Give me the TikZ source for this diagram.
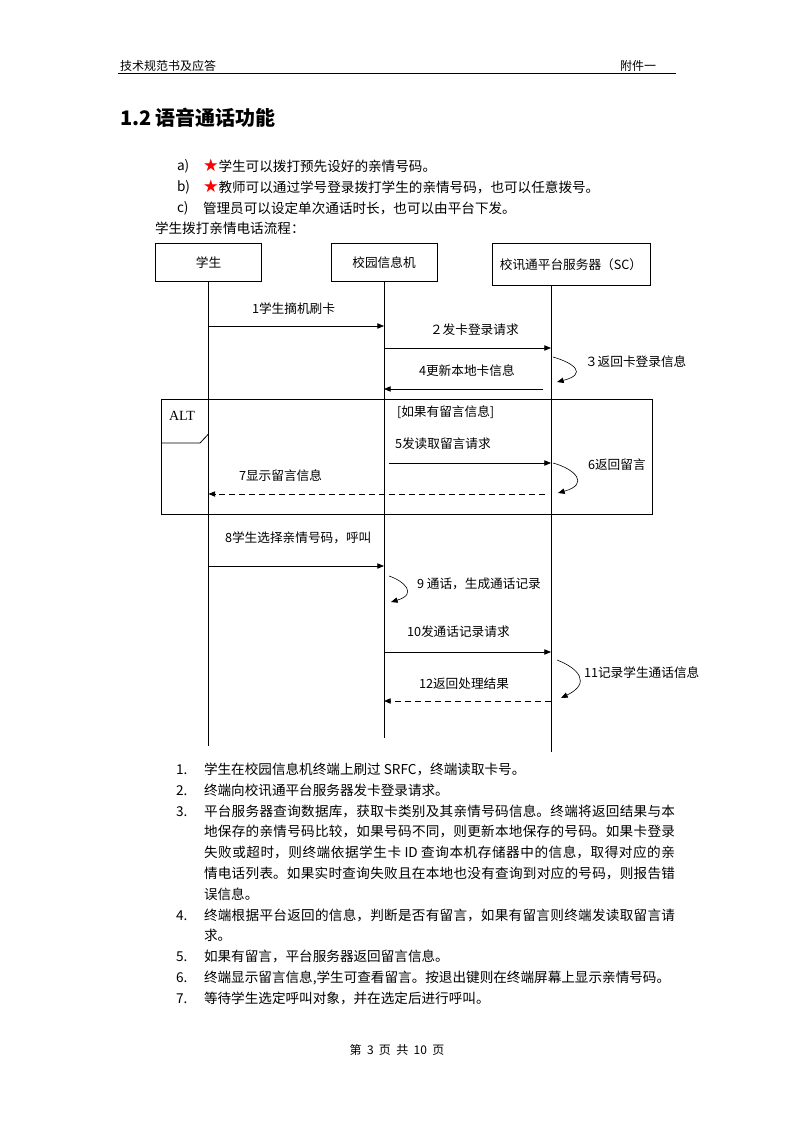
\documentclass[tikz,border=0pt]{standalone}
\usepackage{fontspec}
\setmainfont{Noto Sans CJK SC}
\newfontfamily\starfont{DejaVu Sans}
\newfontfamily\altfont{Liberation Serif}
\usepackage{xcolor}
\usetikzlibrary{arrows.meta}
\definecolor{starred}{RGB}{255, 0, 0}
\XeTeXlinebreaklocale "zh"
\XeTeXlinebreakskip=0pt plus 2pt
\emergencystretch=2em
\newcommand{\redstar}{{\starfont\fontsize{13}{15}\selectfont\color{starred}★}}

\begin{document}
\begin{tikzpicture}[
    x=0.75pt, y=-0.75pt,
    every node/.style={inner sep=0pt, outer sep=0pt},
    headtext/.style={
        anchor=west,
        font=\fontsize{9}{11}\selectfont
    },
    pagetext/.style={
        anchor=west,
        font=\fontsize{10.2}{15.6}\selectfont
    },
    lifebox/.style={
        rectangle,
        draw,
        line width=0.6pt,
        align=center,
        minimum width=79.5pt,
        minimum height=28.5pt,
        font=\fontsize{9.5}{11}\selectfont
    },
    lifeline/.style={
        line width=0.6pt
    },
    msglabel/.style={
        anchor=west,
        font=\fontsize{9.5}{11}\selectfont
    },
    msg/.style={
        line width=0.6pt,
        -{Triangle[length=5pt, width=4pt]}
    },
    reply/.style={
        msg,
        dash pattern=on 4.5pt off 3pt
    },
    selfmsg/.style={
        line width=0.45pt,
        -{Triangle[length=5pt, width=4pt]}
    },
    altframe/.style={
        rectangle,
        draw,
        line width=0.6pt,
        minimum width=368.25pt,
        minimum height=86.25pt
    },
    itemnum/.style={
        anchor=base west,
        font=\fontsize{10.2}{15.6}\selectfont
    },
    itemtext/.style={
        anchor=base west,
        text width=353.25pt,
        align=justify,
        font=\fontsize{10.2}{15.6}\selectfont
    }
]

\fill[white] (0,0) rectangle (794,1123);
\useasboundingbox (0,0) rectangle (794,1123);

% Page head
\node (headleft) [headtext] at (120,66) {技术规范书及应答};
\node (headright) [headtext] at (620,66) {附件一};
\draw[line width=0.75pt] (118,74) -- (676,74);

\node (title) [anchor=west, font=\fontsize{15}{18}\selectfont\bfseries] at (120,118) {1.2 语音通话功能};

\node (ia) [pagetext] at (177,166) {a)};
\node (ta) [pagetext] at (203,166) {\redstar 学生可以拨打预先设好的亲情号码。};
\node (ib) [pagetext] at (177,187) {b)};
\node (tb) [pagetext] at (203,187) {\redstar 教师可以通过学号登录拨打学生的亲情号码，也可以任意拨号。};
\node (ic) [pagetext] at (177,208) {c)};
\node (tc) [pagetext] at (203,208) {管理员可以设定单次通话时长，也可以由平台下发。};
\node (flow) [pagetext] at (155,228) {学生拨打亲情电话流程：};

% Lifelines
\node (stu) [lifebox] at (208.5,262.5) {学生};
\node (kio) [lifebox] at (384,262.5) {校园信息机};
\node (srv) [lifebox, minimum width=118.5pt, minimum height=31.5pt] at (571,264.5) {校讯通平台服务器（SC）};

\coordinate (stuend) at (208.5,746);
\coordinate (kioend) at (384,738);
\coordinate (srvend) at (551,752);

\draw[lifeline] (stu.south) -- (stuend);
\draw[lifeline] (kio.south) -- (kioend);
\draw[lifeline] (srv.south -| srvend) -- (srvend);

% ALT frame
\node (alt) [altframe] at (406.5,456.5) {};
\node (alttag) [anchor=west, font=\altfont\fontsize{10.5}{12}\selectfont] at (169,416) {ALT};
\coordinate (tab1) at (161,443);
\coordinate (tab2) at (200,443);
\coordinate (tab3) at (208.5,434);
\coordinate (tab4) at (208.5,399);
\draw[line width=0.6pt] (tab1) -- (tab2) -- (tab3);
\draw[line width=1.1pt] (tab3) -- (tab4);
\node (cond) [msglabel] at (397,412) {[如果有留言信息]};

% Message rows
\coordinate (row1) at (0,326);
\coordinate (row2) at (0,348);
\coordinate (row4) at (0,389);
\coordinate (row5) at (0,463);
\coordinate (row7) at (0,494);
\coordinate (row8) at (0,566);
\coordinate (row10) at (0,652);
\coordinate (row12) at (0,701);

% Labels
\node (lbl1) [msglabel] at (252,309) {1学生摘机刷卡};
\node (lbl2) [msglabel] at (430,330) {２发卡登录请求};
\node (lbl3) [msglabel] at (585,362) {３返回卡登录信息};
\node (lbl4) [msglabel] at (419,371) {4更新本地卡信息};
\node (lbl5) [msglabel] at (395,444) {5发读取留言请求};
\node (lbl6) [msglabel] at (588,465) {6返回留言};
\node (lbl7) [msglabel] at (239,476) {7显示留言信息};
\node (lbl8) [msglabel] at (225,538) {8学生选择亲情号码，呼叫};
\node (lbl9) [msglabel] at (417,584) {9 通话，生成通话记录};
\node (lbl10) [msglabel] at (407,632) {10发通话记录请求};
\node (lbl11) [msglabel] at (584,673) {11记录学生通话信息};
\node (lbl12) [msglabel] at (419,684) {12返回处理结果};

% Connections
\draw[msg] (stuend |- row1) -- (kioend |- row1);
\draw[msg] (kioend |- row2) -- (srvend |- row2);
\draw[msg, shorten <=6pt] (srvend |- row4) -- (kioend |- row4);
\draw[msg, shorten <=3.75pt] (kioend |- row5) -- (srvend |- row5);
\draw[reply, shorten <=4.5pt] (srvend |- row7) -- (stuend |- row7);
\draw[msg] (stuend |- row8) -- (kioend |- row8);
\draw[msg] (kioend |- row10) -- (srvend |- row10);
\draw[reply] (srvend |- row12) -- (kioend |- row12);

% Self messages
\coordinate (self3a) at (553,357);
\coordinate (self3b) at (557,382);
\draw[selfmsg] (self3a) .. controls (574,363) and (588,374) .. (self3b);
\coordinate (self6a) at (553,463);
\coordinate (self6b) at (558,493);
\draw[selfmsg] (self6a) .. controls (575,469) and (590,484) .. (self6b);
\coordinate (self9a) at (389,576);
\coordinate (self9b) at (391,602);
\draw[selfmsg] (self9a) .. controls (404,581) and (418,594) .. (self9b);
\coordinate (self11a) at (557,660);
\coordinate (self11b) at (561,698);
\draw[selfmsg] (self11a) .. controls (578,668) and (592,683) .. (self11b);

% Steps
\node (n1) [itemnum] at (176,774) {1.};
\node (s1) [itemtext] at (204,774) {学生在校园信息机终端上刷过 SRFC，终端读取卡号。};
\node (n2) [itemnum] at (176,795) {2.};
\node (s2) [itemtext] at (204,795) {终端向校讯通平台服务器发卡登录请求。};
\node (n3) [itemnum] at (176,816) {3.};
\node (s3) [itemtext] at (204,816) {平台服务器查询数据库，获取卡类别及其亲情号码信息。终端将返回结果与本\linebreak
地保存的亲情号码比较，如果号码不同，则更新本地保存的号码。如果卡登录\linebreak
失败或超时，则终端依据学生卡 ID 查询本机存储器中的信息，取得对应的亲\linebreak
情电话列表。如果实时查询失败且在本地也没有查询到对应的号码，则报告错\linebreak
误信息。};
\node (n4) [itemnum] at (176,920) {4.};
\node (s4) [itemtext] at (204,920) {终端根据平台返回的信息，判断是否有留言，如果有留言则终端发读取留言请\linebreak
求。};
\node (n5) [itemnum] at (176,961) {5.};
\node (s5) [itemtext] at (204,961) {如果有留言，平台服务器返回留言信息。};
\node (n6) [itemnum] at (176,982) {6.};
\node (s6) [itemtext] at (204,982) {终端显示留言信息,学生可查看留言。按退出键则在终端屏幕上显示亲情号码。};
\node (n7) [itemnum] at (176,1003) {7.};
\node (s7) [itemtext] at (204,1003) {等待学生选定呼叫对象，并在选定后进行呼叫。};

% Page foot
\node (foot) [headtext, anchor=center] at (397,1050) {第\hspace{4pt}3\hspace{4pt}页\hspace{4pt}共\hspace{4pt}10\hspace{4pt}页};

\end{tikzpicture}
\end{document}
